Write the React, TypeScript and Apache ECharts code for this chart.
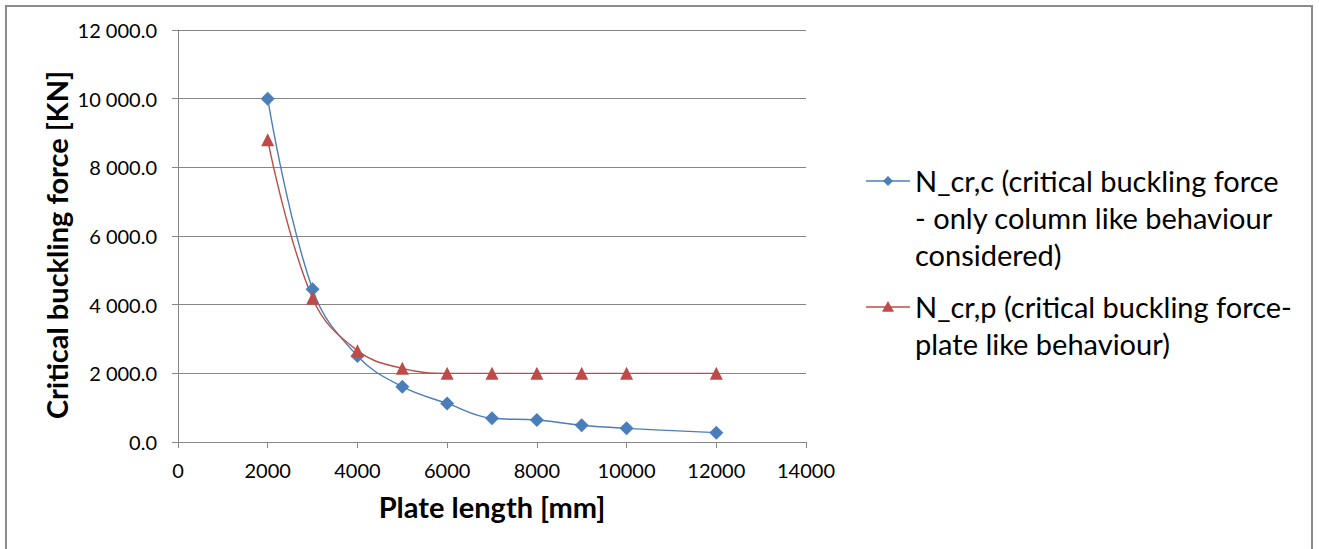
import React, { useEffect, useRef } from "react";
import * as echarts from "echarts";

const plateLength = [2000, 3000, 4000, 5000, 6000, 7000, 8000, 9000, 10000, 12000];
const columnForce = [10000, 4450, 2505, 1610, 1125, 690, 640, 486, 398, 272];
const plateForce = [8800, 4185, 2660, 2146, 2000, 2000, 2000, 2000, 2000, 2000];
const legendColumn = "N_cr,c (critical buckling force\n- only column like behaviour\nconsidered)";
const legendPlate = "N_cr,p (critical buckling force-\nplate like behaviour)";

const BLUE = "#4a7ebb";
const RED = "#be4b48";
const GRID = "#868686";
const FONT = "Lato";

function fmt(v: number) {
  const s = v.toFixed(1);
  const [i, d] = s.split(".");
  return i.replace(/\B(?=(\d{3})+(?!\d))/g, " ") + "." + d;
}

export default function App() {
  const ref = useRef<HTMLDivElement>(null);
  useEffect(() => {
    const chart = echarts.init(ref.current!, null, { renderer: "svg" });
    const diamond = (cx: number, cy: number, r: number) => [
      [cx, cy - r], [cx + r, cy], [cx, cy + r], [cx - r, cy],
    ];
    const tri = (cx: number, cy: number, r: number) => [
      [cx, cy - r], [cx + r, cy + r * 0.8], [cx - r, cy + r * 0.8],
    ];
    chart.setOption({
      animation: false,
      backgroundColor: "#ffffff",
      grid: { left: 178, right: 513, top: 30, bottom: 107 },
      xAxis: {
        type: "value",
        min: 0,
        max: 14000,
        interval: 2000,
        name: "Plate length [mm]",
        nameLocation: "middle",
        nameGap: 50,
        nameTextStyle: { fontFamily: FONT, fontWeight: "bold", fontSize: 29, color: "#000" },
        axisLine: { lineStyle: { color: GRID, width: 1 } },
        axisTick: { show: true, length: 6, lineStyle: { color: GRID } },
        axisLabel: { fontFamily: FONT, fontSize: 20, color: "#000", margin: 18, formatter: (v: number) => String(v) },
        splitLine: { show: false },
      },
      yAxis: {
        type: "value",
        min: 0,
        max: 12000,
        interval: 2000,
        name: "Critical buckling force [KN]",
        nameLocation: "middle",
        nameGap: 107,
        nameTextStyle: { fontFamily: FONT, fontWeight: "bold", fontSize: 29, color: "#000", padding: [0, 18, 0, 0] },
        axisLine: { show: true, lineStyle: { color: GRID, width: 1 } },
        axisTick: { show: true, length: 6, lineStyle: { color: GRID } },
        axisLabel: { fontFamily: FONT, fontSize: 20, color: "#000", margin: 21, formatter: (v: number) => fmt(v) },
        splitLine: { show: true, lineStyle: { color: GRID, width: 1 } },
      },
      series: [
        {
          name: "N_cr,c",
          type: "line",
          data: plateLength.map((x, i) => [x, columnForce[i]]),
          smooth: 0.4,
          symbol: "diamond",
          symbolSize: 14,
          itemStyle: { color: BLUE },
          lineStyle: { color: BLUE, width: 1.4 },
        },
        {
          name: "N_cr,p",
          type: "line",
          data: plateLength.map((x, i) => [x, plateForce[i]]),
          smooth: 0.4,
          symbol: "triangle",
          symbolSize: 13,
          itemStyle: { color: RED },
          lineStyle: { color: RED, width: 1.4 },
        },
      ],
      graphic: [
        {
          type: "rect",
          shape: { x: 6, y: 6, width: 1306, height: 600 },
          style: { fill: "none", stroke: "#8c8c8c", lineWidth: 2 },
          silent: true,
        },
        { type: "line", shape: { x1: 866, y1: 181, x2: 910, y2: 181 }, style: { stroke: BLUE, lineWidth: 1.3 } },
        { type: "polygon", shape: { points: diamond(888, 181, 5) }, style: { fill: BLUE } },
        {
          type: "text",
          x: 915,
          y: 162,
          style: { text: legendColumn, fontFamily: FONT, fontSize: 29, lineHeight: 37, fill: "#000", verticalAlign: "top" },
        },
        { type: "line", shape: { x1: 866, y1: 307, x2: 910, y2: 307 }, style: { stroke: RED, lineWidth: 1.3 } },
        { type: "polygon", shape: { points: tri(888, 307, 6) }, style: { fill: RED } },
        {
          type: "text",
          x: 915,
          y: 288,
          style: { text: legendPlate, fontFamily: FONT, fontSize: 29, lineHeight: 37, fill: "#000", verticalAlign: "top" },
        },
      ],
    });
    return () => chart.dispose();
  }, []);
  return (
    <div
      ref={ref}
      style={{ position: "fixed", left: 0, top: 0, width: 1319, height: 549, background: "#fff" }}
    />
  );
}
